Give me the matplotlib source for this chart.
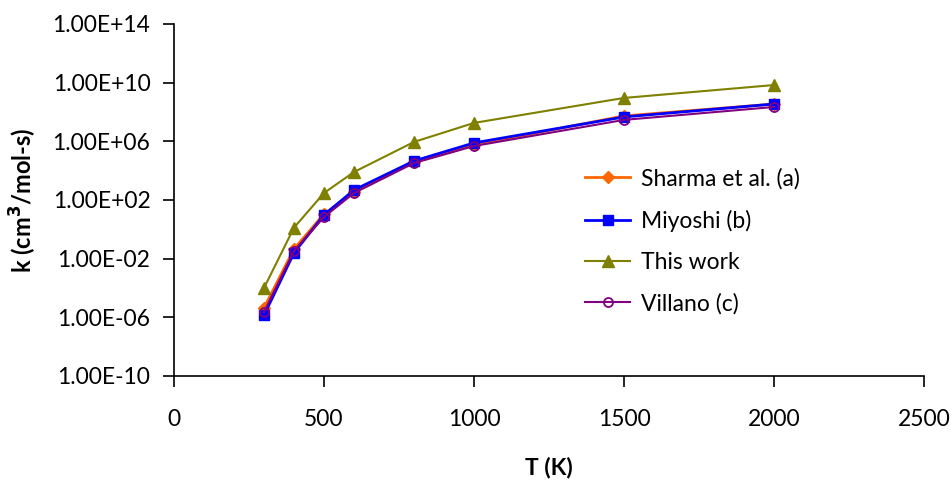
import matplotlib.pyplot as plt
from matplotlib.ticker import FixedLocator, FuncFormatter

plt.rcParams['font.family'] = ['Lato', 'DejaVu Sans']

T = [300, 400, 500, 600, 800, 1000, 1500, 2000]

sharma = [4.4e-6, 4.6e-2, 1.1e1, 3.5e2, 4.0e4, 5.6e5, 5.4e7, 3.5e8]
miyoshi = [1.4e-6, 2.5e-2, 9.5e0, 4.8e2, 4.6e4, 7.8e5, 4.6e7, 3.5e8]
this_work = [1.0e-4, 1.3e0, 3.0e2, 8.1e3, 9.1e5, 1.8e7, 9.1e8, 6.9e9]
villano = [2.3e-6, 3.4e-2, 6.9e0, 3.0e2, 3.3e4, 4.8e5, 2.9e7, 2.2e8]

yticks = [1e-10, 1e-6, 1e-2, 1e2, 1e6, 1e10, 1e14]

fig = plt.figure(figsize=(9.51, 4.88), dpi=100)
ax = fig.add_axes([174 / 951, 1 - 376 / 488, 750 / 951, 352 / 488])

ax.plot(T, sharma, color='#FF6600', lw=2, marker='D', ms=6.5,
        mfc='#FF6600', mec='#FF6600', label='Sharma et al. (a)')
ax.plot(T, miyoshi, color='#0000FF', lw=2, marker='s', ms=7,
        mfc='#0000FF', mec='#0000FF', label='Miyoshi (b)')
ax.plot(T, this_work, color='#808000', lw=1.5, marker='^', ms=9,
        mfc='#808000', mec='#808000', label='This work')
ax.plot(T, villano, color='#800080', lw=1.5, marker='o', ms=6.5,
        mfc='none', mec='#800080', mew=1.3, label='Villano (c)')

ax.set_yscale('log')
ax.set_ylim(1e-10, 1e14)
ax.set_xlim(0, 2500)
ax.set_xticks([0, 500, 1000, 1500, 2000, 2500])
ax.yaxis.set_major_locator(FixedLocator(yticks))
ax.yaxis.set_major_formatter(FuncFormatter(lambda v, p: f"{v:.2E}"))
ax.minorticks_off()

for s in ['top', 'right']:
    ax.spines[s].set_visible(False)
for s in ['left', 'bottom']:
    ax.spines[s].set_linewidth(1.2)
ax.tick_params(direction='out', length=8, width=1.2, labelsize=16.5)
ax.tick_params(axis='x', pad=16)
ax.tick_params(axis='y', pad=9)

ax.set_xlabel('T (K)', fontsize=16.5, fontweight='bold', labelpad=19)
ax.set_ylabel('k (cm$^\\mathbf{3}$/mol-s)', fontsize=17, fontweight='bold', labelpad=10)

ax.legend(loc='center left', bbox_to_anchor=(0.52, 0.383), frameon=False,
          fontsize=16.5, handlelength=2.0, labelspacing=0.88, handletextpad=0.45)

fig.savefig('out.png', dpi=100)
